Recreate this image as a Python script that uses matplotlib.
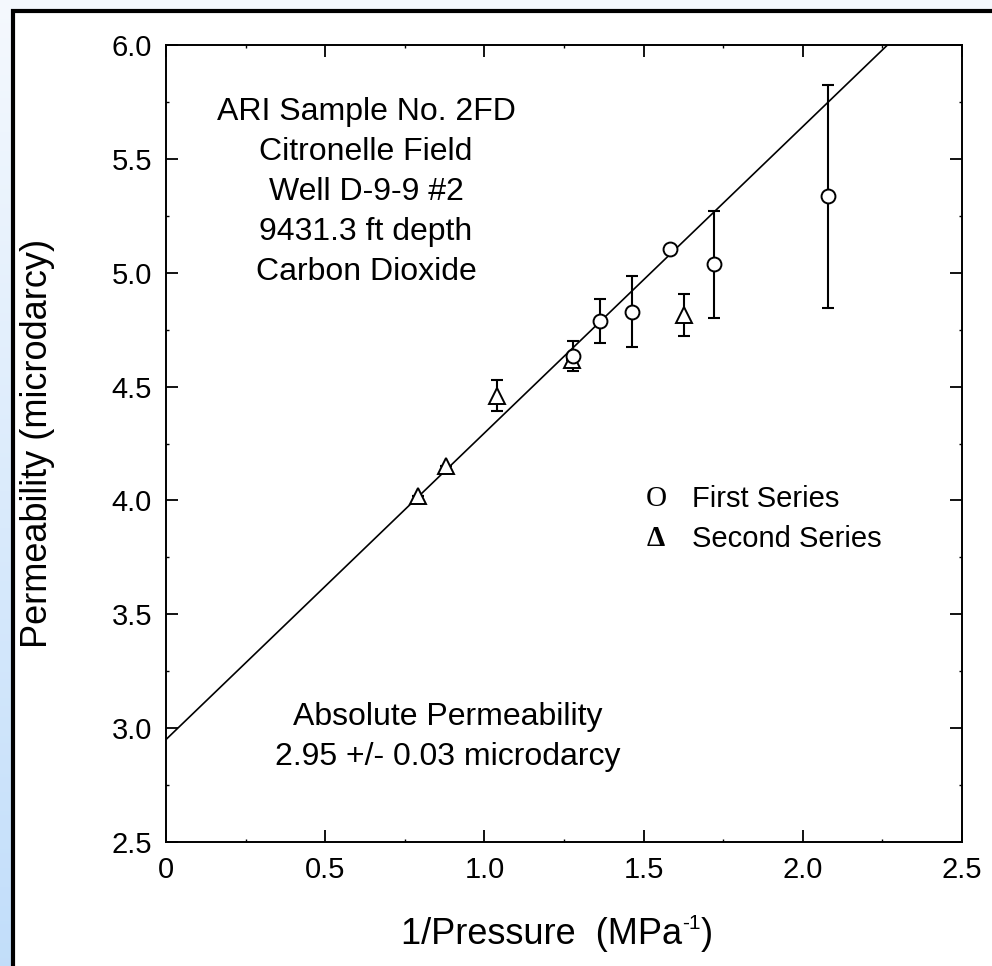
import numpy as np
import matplotlib
matplotlib.use("Agg")
import matplotlib.pyplot as plt
from matplotlib.patches import Rectangle

plt.rcParams['font.family'] = ['Liberation Sans', 'DejaVu Sans']

# ---- data ----
first_x = [1.279, 1.363, 1.463, 1.583, 1.722, 2.08]
first_y = [4.634, 4.789, 4.829, 5.103, 5.038, 5.335]
first_err = [0.065, 0.097, 0.155, 0.0, 0.235, 0.49]

second_x = [0.793, 0.879, 1.039, 1.274, 1.627]
second_y = [4.019, 4.151, 4.460, 4.617, 4.814]
second_err = [0.0, 0.0, 0.067, 0.0, 0.094]

fit_intercept = 2.95
fit_slope = 1.346
fit_x = [0.0, 2.5]

x_ticks = [0, 0.5, 1.0, 1.5, 2.0, 2.5]
x_tick_labels = ['0', '0.5', '1.0', '1.5', '2.0', '2.5']
y_ticks = [2.5, 3.0, 3.5, 4.0, 4.5, 5.0, 5.5, 6.0]
y_tick_labels = ['2.5', '3.0', '3.5', '4.0', '4.5', '5.0', '5.5', '6.0']

info_lines = ['ARI Sample No. 2FD', 'Citronelle Field', 'Well D-9-9 #2',
              '9431.3 ft depth', 'Carbon Dioxide']
abs_lines = ['Absolute Permeability', '2.95 +/- 0.03 microdarcy']
legend_labels = ['First Series', 'Second Series']
legend_symbols = ['O', '\u0394']
x_label_parts = ['1/Pressure  (MPa', '-1', ')']
y_label = 'Permeability (microdarcy)'

W, H = 992, 966
fig = plt.figure(figsize=(W / 100, H / 100), dpi=100)

# background gradient
bg = fig.add_axes([0, 0, 1, 1], zorder=-10)
grad = np.linspace(0, 1, 256).reshape(-1, 1)
top_c = np.array([0.96, 0.975, 0.995])
bot_c = np.array([0.76, 0.87, 0.98])
img = top_c[None, None, :] * (1 - grad[:, :, None]) + bot_c[None, None, :] * grad[:, :, None]
bg.imshow(img, aspect='auto', extent=[0, 1, 0, 1], origin='upper')
bg.set_axis_off()
bg.add_patch(Rectangle((13 / W, -0.1), 1.2, 1 - 11 / H + 0.1,
                       facecolor='white', edgecolor='black', linewidth=3.0,
                       transform=bg.transAxes))
bg.set_xlim(0, 1)
bg.set_ylim(0, 1)


def fx(px):
    return px / W


def fy(py):
    return 1 - py / H


ax = fig.add_axes([fx(166), fy(842), (962 - 166) / W, (842 - 45) / H])
ax.set_xlim(0, 2.5)
ax.set_ylim(2.5, 6.0)

fy_vals = [fit_intercept + fit_slope * v for v in fit_x]
ax.plot(fit_x, fy_vals, color='black', lw=1.2, zorder=2)

ax.errorbar(first_x, first_y, yerr=first_err, fmt='none', ecolor='black',
            elinewidth=1.5, capsize=4.5, capthick=1.5, zorder=3)
ax.errorbar(second_x, second_y, yerr=second_err, fmt='none', ecolor='black',
            elinewidth=1.5, capsize=4.5, capthick=1.5, zorder=3)
ax.plot(second_x, second_y, linestyle='none', marker='^', markersize=11,
        markerfacecolor='white', markeredgecolor='black', markeredgewidth=1.4, zorder=4)
ax.plot(first_x, first_y, linestyle='none', marker='o', markersize=10,
        markerfacecolor='white', markeredgecolor='black', markeredgewidth=1.4, zorder=5)

ax.set_xticks(x_ticks)
ax.set_xticklabels(x_tick_labels)
ax.set_yticks(y_ticks)
ax.set_yticklabels(y_tick_labels)
ax.set_xticks(np.arange(0.25, 2.5, 0.5), minor=True)
ax.set_yticks(np.arange(2.75, 6.0, 0.5), minor=True)
ax.tick_params(which='major', direction='in', length=8.5, width=1.3,
               top=True, right=True, labelsize=21, pad=10)
ax.tick_params(which='minor', direction='in', length=2, width=1.0,
               top=True, right=True)
for s in ax.spines.values():
    s.set_linewidth(1.4)

# y label
fig.text(fx(38), fy(443), y_label, rotation=90, ha='center', va='center', fontsize=26)

# x label composed with a hyphen superscript
renderer = fig.canvas.get_renderer()
base_y = fy(944)
t1 = fig.text(0, base_y, x_label_parts[0], ha='left', va='baseline', fontsize=26)
t2 = fig.text(0, base_y + 15 / H, x_label_parts[1], ha='left', va='baseline', fontsize=15)
t3 = fig.text(0, base_y, x_label_parts[2], ha='left', va='baseline', fontsize=26)
w1 = t1.get_window_extent(renderer).width
w2 = t2.get_window_extent(renderer).width
w3 = t3.get_window_extent(renderer).width
total = w1 + w2 + 1 + w3
x0 = 557 - total / 2
t1.set_x(fx(x0))
t2.set_x(fx(x0 + w1))
t3.set_x(fx(x0 + w1 + w2 + 1))

info_y = [112, 152, 192, 232, 272]
for s, py in zip(info_lines, info_y):
    fig.text(fx(366), fy(py), s, ha='center', va='center', fontsize=23)
abs_y = [717, 757]
for s, py in zip(abs_lines, abs_y):
    fig.text(fx(448), fy(py), s, ha='center', va='center', fontsize=23)

leg_y = [499, 539]
for sym, lab, py in zip(legend_symbols, legend_labels, leg_y):
    fig.text(fx(656), fy(py), sym, ha='center', va='center', fontsize=21,
             family=['Liberation Serif', 'DejaVu Serif'],
             weight='bold' if sym != 'O' else 'normal')
    fig.text(fx(692), fy(py), lab, ha='left', va='center', fontsize=21)

fig.savefig('out.png', dpi=100)
